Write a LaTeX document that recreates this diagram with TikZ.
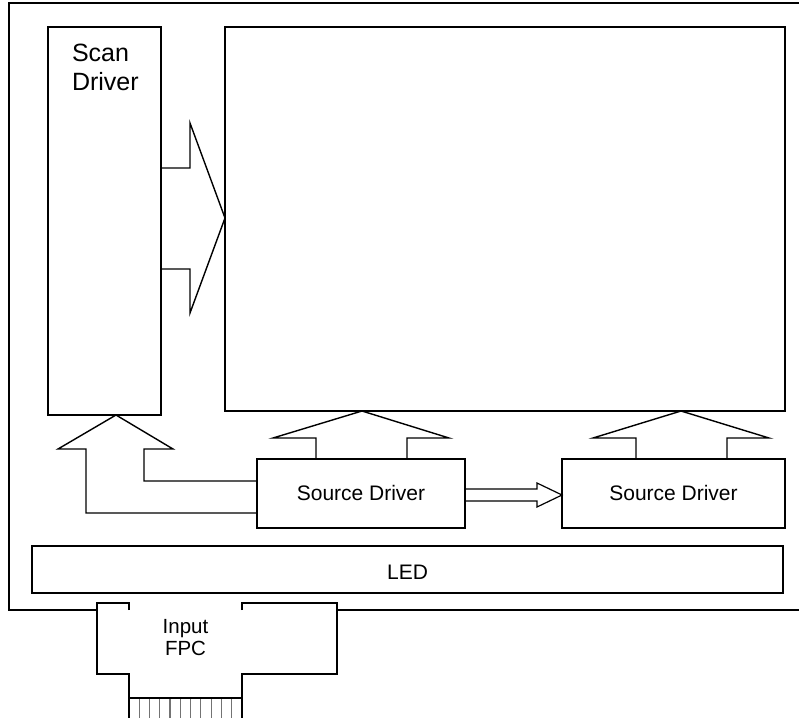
\documentclass[tikz,border=0pt]{standalone}
\usepackage{fontspec}
\setmainfont{Liberation Sans}
\begin{document}
\begin{tikzpicture}[x=1pt,y=-1pt,
  line join=miter,
  box/.style={draw=black,line width=1.4pt,anchor=north west,inner sep=0pt,outer sep=0pt},
  blk/.style={draw=black,line width=1.4pt},
  lbl/.style={inner sep=0pt,outer sep=0pt},
  strip/.style={draw=black!55,line width=1.2pt}]
\useasboundingbox (0,0) rectangle (799,717);
\clip (0,0) rectangle (799,717);
% outer board
\draw[line width=1.8pt] (810,3) -- (9,3) -- (9,610) -- (117,610);
\draw[line width=1.8pt] (242,610) -- (810,610);
% main blocks
\node[box,minimum width=113pt,minimum height=388pt] (scan) at (48,27) {};
\node[box,minimum width=560pt,minimum height=384pt] (panel) at (225,27) {};
\node[box,minimum width=208pt,minimum height=69pt] (src1) at (257,459) {};
\node[box,minimum width=223pt,minimum height=69pt] (src2) at (562,459) {};
\node[box,minimum width=751pt,minimum height=47pt] (led) at (32,546) {};
\node[lbl,font=\fontsize{21}{25}\selectfont] (src1t) at ([yshift=1pt]src1.center) {Source Driver};
\node[lbl,font=\fontsize{21}{25}\selectfont] (src2t) at ([yshift=1pt]src2.center) {Source Driver};
\node[lbl,font=\fontsize{21}{25}\selectfont] (ledt) at ([yshift=-3pt]led.center) {LED};
\node[lbl,anchor=north west,align=left,font=\fontsize{25}{29}\selectfont] (scant) at (72,44.5) {Scan\\Driver};
% scan driver -> panel block arrow
\draw[blk] (scan.east |- 0,168) -- (190,168) -- (190,123) -- (panel.west |- 0,218) -- (190,313) -- (190,269) -- (scan.east |- 0,269);
% source driver 1 -> panel
\draw[blk] (316,459) -- (316,438) -- (273,438) -- (panel.south -| 362,0) -- (449,438) -- (407,438) -- (407,459);
% source driver 2 -> panel
\draw[blk] (636,459) -- (636,438) -- (593,438) -- (panel.south -| 681,0) -- (769,438) -- (727,438) -- (727,459);
% source driver 1 -> source driver 2
\draw[blk,line width=1.2pt] (src1.east |- 0,489) -- (537,489) -- (537,483) -- (src2.west |- 0,495) -- (537,507) -- (537,501) -- (src1.east |- 0,501);
% source driver 1 -> scan driver
\draw[blk] (src1.west |- 0,481) -- (144,481) -- (144,449) -- (173,449) -- (scan.south -| 116,0) -- (58,449) -- (86,449) -- (86,513) -- (src1.west |- 0,513) -- cycle;
% input FPC
\fill[white] (97,603) -- (337,603) -- (337,674) -- (242,674) -- (242,716) -- (129,716) -- (129,674) -- (97,674) -- cycle;
\draw[line width=1.4pt] (129,610) -- (129,603) -- (97,603) -- (97,674) -- (129,674) -- (129,718);
\draw[line width=1.4pt] (242,610) -- (242,603) -- (337,603) -- (337,674) -- (242,674) -- (242,718);
\foreach \i in {1,...,10} {\draw[strip] ({129+\i*10.27},698) -- ({129+\i*10.27},718);}
\draw[line width=1.4pt] (129,698) -- (242,698);
\node[lbl,anchor=north,align=center,font=\fontsize{20.5}{22}\selectfont] (fpct) at (185.5,619) {Input\\FPC};
\end{tikzpicture}
\end{document}
